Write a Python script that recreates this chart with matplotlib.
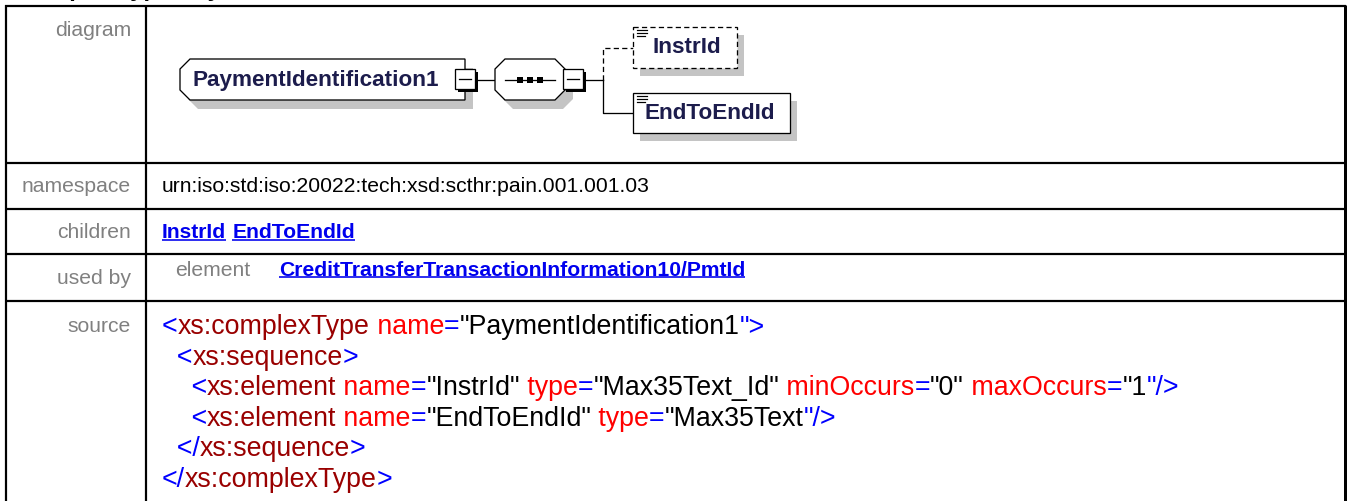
import matplotlib
matplotlib.use('Agg')
import matplotlib.pyplot as plt
from matplotlib.patches import Polygon, Rectangle

W, H = 1348, 501
DPI = 100
FONT = 'Liberation Sans'

TITLE = 'complexType PaymentIdentification1'
ROW_LABELS = ['diagram', 'namespace', 'children', 'used by', 'source']
TYPE_NAME = 'PaymentIdentification1'
NAMESPACE = 'urn:iso:std:iso:20022:tech:xsd:scthr:pain.001.001.03'
CHILDREN = ['InstrId', 'EndToEndId']
OPTIONAL_CHILDREN = ['InstrId']
USED_BY_KIND = 'element'
USED_BY = 'CreditTransferTransactionInformation10/PmtId'

# source listing as (text, token kind) pieces
SOURCE_LINES = [
    [('<', 'mark'), ('xs:complexType', 'elem'), (' name', 'attr'), ('=', 'mark'),
     ('"PaymentIdentification1', 'val'), ('">', 'mark')],
    [('  <', 'mark'), ('xs:sequence', 'elem'), ('>', 'mark')],
    [('    <', 'mark'), ('xs:element', 'elem'), (' name', 'attr'), ('=', 'mark'),
     ('"InstrId"', 'val'), (' type', 'attr'), ('=', 'mark'), ('"Max35Text_Id"', 'val'),
     (' minOccurs', 'attr'), ('=', 'mark'), ('"0"', 'val'), (' maxOccurs', 'attr'),
     ('=', 'mark'), ('"1', 'val'), ('"/>', 'mark')],
    [('    <', 'mark'), ('xs:element', 'elem'), (' name', 'attr'), ('=', 'mark'),
     ('"EndToEndId"', 'val'), (' type', 'attr'), ('=', 'mark'), ('"Max35Text', 'val'),
     ('"/>', 'mark')],
    [('  </', 'mark'), ('xs:sequence', 'elem'), ('>', 'mark')],
    [('</', 'mark'), ('xs:complexType', 'elem'), ('>', 'mark')],
]
TOKEN_COLORS = {'mark': '#0000ff', 'elem': '#990000', 'attr': '#ff0000', 'val': '#000000'}

LABEL_GREY = '#808080'
LINK_BLUE = '#0000ee'
DIAG_TEXT = '#1c1c4c'
SHADOW = '#c4c4c4'


def px(v):
    # pixels -> points
    return v * 72 / DPI


fig = plt.figure(figsize=(W / DPI, H / DPI), dpi=DPI)
ax = fig.add_axes([0, 0, 1, 1])
ax.set_xlim(0, W)
ax.set_ylim(H, 0)
ax.axis('off')
renderer = fig.canvas.get_renderer()


def put(x, y, s, size, color, weight='normal', ha='left', va='center', z=10):
    return ax.text(x, y, s, fontsize=px(size), color=color, fontweight=weight,
                   ha=ha, va=va, family=FONT, zorder=z)


def right_edge(t):
    return t.get_window_extent(renderer).x1


def underline(t, color):
    bb = t.get_window_extent(renderer)
    y = H - bb.y0 - 3
    ax.plot([bb.x0, bb.x1], [y, y], color=color, lw=px(1.6), solid_capstyle='butt')


# ---- heading (only its descenders show at the top edge) ----
put(20, -4, TITLE, 24, 'black', weight='bold', va='baseline')

# ---- table grid ----
LEFT, SPLIT, RIGHT = 6, 146, 1345
ROW_Y = [6, 163, 209, 254, 301]
for y in ROW_Y:
    ax.plot([LEFT - 1, RIGHT + 1], [y, y], color='black', lw=px(2.2), solid_capstyle='butt')
for x, w in [(LEFT, 2.2), (SPLIT, 2.2), (RIGHT, 3)]:
    ax.plot([x, x], [ROW_Y[0] - 1, H + 5], color='black', lw=px(w), solid_capstyle='butt')

LABEL_Y = [30, 187, 233, 278, 327]
for lab, y in zip(ROW_LABELS, LABEL_Y):
    put(131, y, lab, 21.2, LABEL_GREY, ha='right')

# ---- namespace / children / used by ----
put(162, 187, NAMESPACE, 21.2, 'black')

x = 162
for name in CHILDREN:
    t = put(x, 233, name, 21.2, LINK_BLUE, weight='bold')
    underline(t, LINK_BLUE)
    x = right_edge(t) + 6

put(175, 270, USED_BY_KIND, 21.2, LABEL_GREY)
t = put(279, 270, USED_BY, 21.2, LINK_BLUE, weight='bold')
underline(t, LINK_BLUE)

# ---- source listing ----
SRC_Y0, SRC_STEP = 327, 30.6
for i, pieces in enumerate(SOURCE_LINES):
    x = 162
    y = SRC_Y0 + i * SRC_STEP
    for text, kind in pieces:
        t = put(x, y, text, 26.8, TOKEN_COLORS[kind])
        x = right_edge(t)

# ---- diagram ----
LW = px(1.3)


def chamfered(x0, y0, x1, y1, c, both):
    pts = [(x0, y0 + c), (x0 + c, y0)]
    if both:
        pts += [(x1 - c, y0), (x1, y0 + c), (x1, y1 - c), (x1 - c, y1)]
    else:
        pts += [(x1, y0), (x1, y1)]
    pts += [(x0 + c, y1), (x0, y1 - c)]
    return pts


def shadowed(pts, ls='-', dx=8, dy=9):
    ax.add_patch(Polygon([(a + dx, b + dy) for a, b in pts], closed=True,
                         facecolor=SHADOW, edgecolor='none', zorder=2))
    ax.add_patch(Polygon(pts, closed=True, facecolor='white', edgecolor='black',
                         lw=LW, ls=ls, zorder=3))


def minus_box(x0, y0, s=20):
    ax.add_patch(Rectangle((x0 + 3, y0 + 3), s, s, facecolor='black', edgecolor='none', zorder=5))
    ax.add_patch(Rectangle((x0, y0), s, s, facecolor='white', edgecolor='black', lw=LW, zorder=6))
    ax.plot([x0 + 4, x0 + s - 4], [y0 + s / 2] * 2, color='black', lw=LW, zorder=7)


def doc_icon(x0, y0):
    for i, w in enumerate([10, 10, 8]):
        ax.plot([x0, x0 + w], [y0 + 3 * i] * 2, color='black', lw=px(1.2), zorder=7)


MID = 80
# type box
shadowed(chamfered(180, 59, 465, 100, 10, both=False))
put(192, MID, TYPE_NAME, 22.5, DIAG_TEXT, weight='bold')
minus_box(455, 69)
ax.plot([478, 495], [MID, MID], color='black', lw=LW, zorder=1)

# sequence compositor
shadowed(chamfered(495, 59, 565, 100, 10, both=True))
ax.plot([505, 555], [MID, MID], color='black', lw=LW, zorder=7)
for cx in [520, 530, 540]:
    ax.add_patch(Rectangle((cx - 3, MID - 3), 6, 6, facecolor='black', edgecolor='none', zorder=8))
minus_box(563, 69)
ax.plot([586, 603], [MID, MID], color='black', lw=LW, zorder=1)

# children of the sequence
BRANCH_X = 603
child_boxes = {'InstrId': (633, 27, 737, 68), 'EndToEndId': (633, 93, 790, 133)}
for name in CHILDREN:
    x0, y0, x1, y1 = child_boxes[name]
    ym = (y0 + y1) / 2
    ls = (0, (4, 2.5)) if name in OPTIONAL_CHILDREN else '-'
    ax.plot([BRANCH_X, BRANCH_X, x0], [MID, ym, ym], color='black', lw=LW, ls=ls, zorder=1)
    shadowed([(x0, y0), (x1, y0), (x1, y1), (x0, y1)], ls=ls, dx=7, dy=8)
    doc_icon(x0 + 4, y0 + 3)
    put(x0 + (19 if name in OPTIONAL_CHILDREN else 12), ym, name, 22.5, DIAG_TEXT, weight='bold')

fig.savefig('out.png', dpi=DPI, facecolor='white')
